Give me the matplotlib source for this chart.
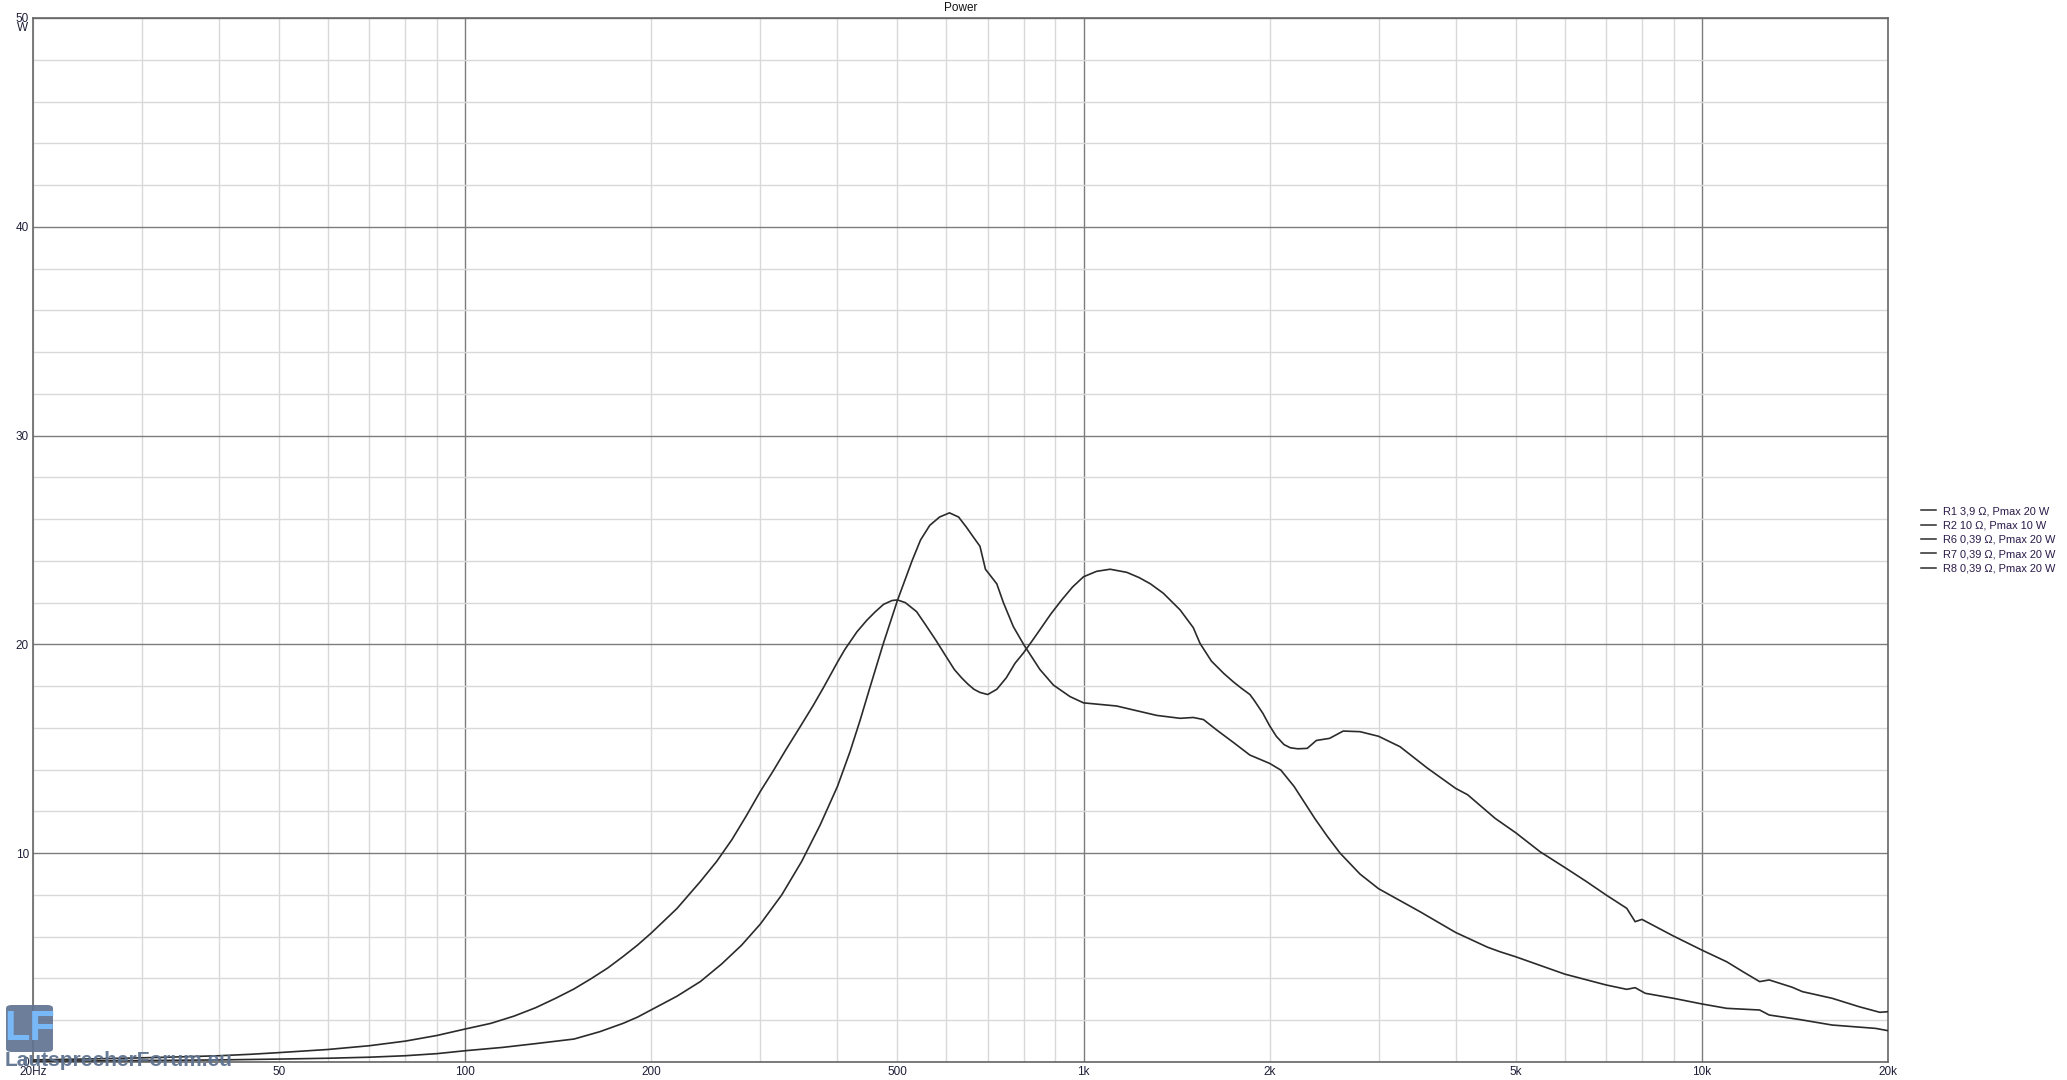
import matplotlib
matplotlib.use('Agg')
import matplotlib.pyplot as plt
from matplotlib.lines import Line2D
from matplotlib.patches import FancyBboxPatch

# ---------------- data ----------------
legend_labels = ["R1 3,9 Ω, Pmax 20 W", "R2 10 Ω, Pmax 10 W",
                 "R6 0,39 Ω, Pmax 20 W", "R7 0,39 Ω, Pmax 20 W",
                 "R8 0,39 Ω, Pmax 20 W"]

freq_a = [20, 25, 30, 35, 40, 45, 50, 60, 70, 80, 90, 100, 110, 120, 130,
          140, 150, 160, 170, 180, 190, 200, 220, 240, 255, 270, 285, 300,
          315, 330, 348, 365, 380, 400, 411, 430, 446, 460, 475, 490, 500,
          515, 537, 555, 577, 600, 618, 635, 650, 665, 680, 700, 724, 750,
          775, 800, 825, 850, 885, 922, 960, 1000, 1050, 1104, 1175, 1230,
          1283, 1346, 1433, 1505, 1543, 1610, 1687, 1748, 1800, 1858, 1890,
          1950, 2000, 2050, 2110, 2160, 2220, 2300, 2380, 2500, 2630, 2800,
          3000, 3250, 3600, 4000, 4180, 4630, 5000, 5475, 6000, 6500, 7000,
          7560, 7800, 8000, 9000, 10000, 10970, 11660, 12400, 12850, 14000,
          14540, 16250, 17950, 19400, 20000]
power_a = [0.10, 0.15, 0.20, 0.25, 0.30, 0.37, 0.45, 0.60, 0.78, 1.00, 1.27,
           1.58, 1.85, 2.20, 2.60, 3.05, 3.50, 4.00, 4.50, 5.05, 5.60, 6.18,
           7.35, 8.64, 9.60, 10.65, 11.80, 12.95, 13.95, 14.95, 16.05, 17.05,
           17.95, 19.15, 19.75, 20.60, 21.15, 21.55, 21.92, 22.10, 22.13,
           22.00, 21.57, 20.95, 20.20, 19.40, 18.80, 18.40, 18.10, 17.85,
           17.70, 17.60, 17.85, 18.40, 19.10, 19.60, 20.15, 20.70, 21.45,
           22.13, 22.75, 23.24, 23.50, 23.60, 23.45, 23.20, 22.90, 22.45,
           21.65, 20.80, 20.05, 19.20, 18.60, 18.20, 17.90, 17.60, 17.30,
           16.70, 16.10, 15.60, 15.20, 15.05, 15.00, 15.02, 15.40, 15.50,
           15.85, 15.82, 15.60, 15.10, 14.07, 13.10, 12.80, 11.67, 10.98,
           10.07, 9.32, 8.65, 8.00, 7.36, 6.72, 6.83, 6.03, 5.36, 4.80, 4.32,
           3.85, 3.93, 3.58, 3.37, 3.05, 2.65, 2.38, 2.41]

freq_b = [20, 30, 40, 50, 60, 70, 80, 90, 100, 115, 130, 150, 165, 180, 190,
          200, 220, 240, 260, 280, 300, 325, 350, 375, 400, 419, 435, 451,
          474, 500, 528, 545, 564, 585, 607, 628, 647, 665, 680, 694, 724,
          742, 770, 800, 850, 894, 951, 1000, 1131, 1313, 1433, 1505, 1563,
          1642, 1748, 1858, 2000, 2085, 2190, 2280, 2365, 2480, 2600, 2800,
          3000, 3500, 4000, 4500, 4716, 5000, 6000, 7000, 7560, 7800, 8100,
          9000, 10000, 10970, 12400, 12850, 14350, 16250, 19100, 20000]
power_b = [0.04, 0.07, 0.10, 0.14, 0.18, 0.23, 0.30, 0.40, 0.54, 0.70, 0.88,
           1.10, 1.45, 1.85, 2.15, 2.50, 3.15, 3.85, 4.70, 5.60, 6.60, 8.00,
           9.60, 11.35, 13.20, 14.85, 16.35, 17.90, 20.00, 22.10, 24.00,
           25.00, 25.70, 26.10, 26.30, 26.10, 25.60, 25.10, 24.70, 23.60,
           22.90, 22.00, 20.85, 20.00, 18.80, 18.05, 17.50, 17.20, 17.05,
           16.60, 16.46, 16.50, 16.40, 15.90, 15.30, 14.70, 14.30, 13.98,
           13.20, 12.40, 11.67, 10.80, 10.00, 9.00, 8.30, 7.20, 6.20, 5.50,
           5.28, 5.04, 4.21, 3.69, 3.48, 3.56, 3.29, 3.05, 2.78, 2.57, 2.49,
           2.25, 2.04, 1.77, 1.61, 1.50]

x_major = [100, 1000, 10000]
x_minor = [20, 30, 40, 50, 60, 70, 80, 90, 200, 300, 400, 500, 600, 700,
           800, 900, 2000, 3000, 4000, 5000, 6000, 7000, 8000, 9000, 20000]
x_labels = {20: "20Hz", 50: "50", 100: "100", 200: "200", 500: "500",
            1000: "1k", 2000: "2k", 5000: "5k", 10000: "10k", 20000: "20k"}
y_major = [0, 10, 20, 30, 40, 50]
y_minor = [2, 4, 6, 8, 12, 14, 16, 18, 22, 24, 26, 28, 32, 34, 36, 38,
           42, 44, 46, 48]

# ---------------- figure ----------------
W, H = 2067, 1080
plt.rcParams['font.family'] = ['Liberation Sans', 'DejaVu Sans']
fig = plt.figure(figsize=(W / 100, H / 100), dpi=100)
fig.patch.set_facecolor('white')
ax = fig.add_axes([33 / W, 1 - 1062 / H, (1888 - 33) / W, (1062 - 18) / H])

line_col = '#2b2b2b'
ax.plot(freq_a, power_a, color=line_col, lw=1.2, zorder=3)
ax.plot(freq_b, power_b, color=line_col, lw=1.2, zorder=3)

ax.set_xscale('log')
ax.set_xlim(20, 20000)
ax.set_ylim(0, 50)

ax.set_xticks(x_major)
ax.set_xticks(x_minor, minor=True)
ax.set_xticklabels([x_labels.get(v, "") for v in x_major])
ax.set_xticklabels([x_labels.get(v, "") for v in x_minor], minor=True)
ax.set_yticks(y_major)
ax.set_yticks(y_minor, minor=True)
ax.set_yticklabels([str(v) for v in y_major])

lab_col = '#1e1e38'
ax.tick_params(which='both', length=0, labelsize=8.5, colors=lab_col)
ax.tick_params(axis='x', which='both', pad=3)
ax.tick_params(axis='y', which='both', pad=3)

ax.grid(which='major', color='#7c7c7c', lw=1.0)
ax.grid(which='minor', color='#d9d9d9', lw=1.0)
ax.set_axisbelow(True)
for s in ax.spines.values():
    s.set_color('#666666')
    s.set_linewidth(1.2)

ax.set_title('Power', fontsize=8.5, color='#111111', pad=5)
fig.text(23 / W, 1 - 28 / H, 'W', fontsize=8.5, color=lab_col,
         ha='center', va='center')

# legend
handles = [Line2D([], [], color=line_col, lw=1.1) for _ in legend_labels]
fig.legend(handles, legend_labels, loc='upper left',
           bbox_to_anchor=(1921 / W, 1 - 506 / H), frameon=False,
           fontsize=7.9, handlelength=1.4, handletextpad=0.6,
           labelspacing=0.4, borderpad=0, borderaxespad=0,
           labelcolor='#2a1a4a')

# watermark logo
box = FancyBboxPatch((6 / W, 1 - 1052 / H), 47 / W, 47 / H,
                     boxstyle='round,pad=0,rounding_size=0.003',
                     transform=fig.transFigure, facecolor='#5f7390',
                     edgecolor='none', alpha=0.92, zorder=10)
fig.add_artist(box)
fig.text(29.5 / W, 1 - 1029 / H, 'LF', fontsize=30, fontweight='bold',
         color='#78b8f6', ha='center', va='center', zorder=11)
fig.text(5 / W, 1 - 1061 / H, 'LautsprecherForum.eu', fontsize=15,
         fontweight='bold', color='#5f7390', alpha=0.95, ha='left',
         va='center', zorder=11)

fig.savefig('out.png', dpi=100, facecolor='white')
